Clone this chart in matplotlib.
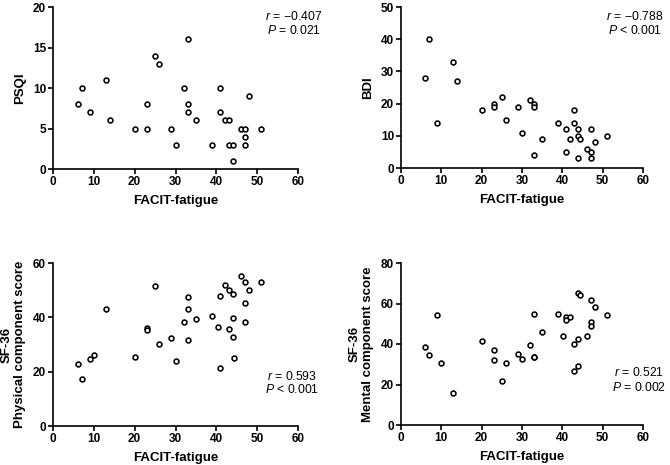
import matplotlib
matplotlib.use("Agg")
import matplotlib.pyplot as plt

plt.rcParams['font.family'] = ['Liberation Sans', 'DejaVu Sans']
plt.rcParams['mathtext.fontset'] = 'custom'
plt.rcParams['mathtext.it'] = 'Liberation Sans:italic'

# FACIT-fatigue vs PSQI
psqi_x = [6, 7, 9, 13, 14, 20, 23, 23, 25, 26, 29, 30, 32, 33, 33, 33, 35, 39,
          41, 41, 42, 43, 43, 44, 44, 46, 47, 47, 47, 48, 51]
psqi_y = [8, 10, 7, 11, 6, 5, 8, 5, 14, 13, 5, 3, 10, 16, 8, 7, 6, 3,
          10, 7, 6, 6, 3, 3, 1, 5, 5, 4, 3, 9, 5]

# FACIT-fatigue vs BDI
bdi_x = [6, 7, 9, 13, 14, 20, 23, 23, 25, 26, 29, 30, 32, 33, 33, 33, 35, 39,
         41, 41, 42, 43, 43, 44, 44, 44.5, 44, 46, 47, 47, 47, 48, 51]
bdi_y = [28, 40, 14, 33, 27, 18, 20, 19, 22, 15, 19, 11, 21, 20, 19, 4, 9, 14,
         12, 5, 9, 18, 14, 12, 10, 9, 3, 6, 12, 5, 3, 8, 10]

# FACIT-fatigue vs SF-36 physical component
pcs_x = [6, 7, 9, 10, 13, 20, 23, 23, 25, 26, 29, 30, 32, 33, 33, 33, 35, 39,
         40.3, 41, 41, 42, 43, 43, 44, 44, 44, 44.4, 46, 47, 47, 47, 48, 51]
pcs_y = [22.8, 17.2, 24.6, 26.2, 42.9, 25.3, 35.9, 35.5, 51.4, 30.3, 32.3, 24.1,
         38.1, 47.4, 43.0, 31.7, 39.3, 40.5, 36.3, 47.7, 21.4, 52.0, 50.1, 35.6,
         48.5, 39.9, 32.6, 25.0, 55.1, 52.9, 45.1, 38.1, 49.9, 52.9]

# FACIT-fatigue vs SF-36 mental component
mcs_x = [6, 7, 9, 10, 13, 20, 23, 23, 25, 26, 29, 30, 32, 33, 33, 33, 35, 39,
         40.2, 41, 41, 42, 43, 43, 44, 44.4, 44, 44, 46, 47, 47, 47, 48, 51]
mcs_y = [38.4, 34.5, 54.1, 30.8, 16.0, 41.7, 36.8, 32.2, 21.9, 30.4, 35.3, 32.5,
         39.4, 54.6, 33.8, 33.5, 45.7, 54.9, 44.0, 53.1, 51.8, 53.1, 40.1, 26.7,
         65.0, 64.3, 42.6, 29.2, 44.0, 61.5, 50.8, 48.8, 58.1, 54.3]

W, H = 670, 465
fig = plt.figure(figsize=(W / 100, H / 100), dpi=100)


def add_panel(px, x, y, ymax, ystep, ylabel, stats, stat_pos):
    left, top, right, bottom = px
    ax = fig.add_axes([left / W, 1 - bottom / H, (right - left) / W, (bottom - top) / H])
    ax.plot(x, y, 'o', ms=3.5, mfc='white', mec='black', mew=1.15, clip_on=False)
    ax.set_xlim(0, 60)
    ax.set_ylim(0, ymax)
    ax.set_xticks(range(0, 61, 10))
    ax.set_yticks(range(0, ymax + 1, ystep))
    for s in ['top', 'right']:
        ax.spines[s].set_visible(False)
    for s in ['left', 'bottom']:
        ax.spines[s].set_linewidth(1.2)
    ax.tick_params(direction='out', length=3.5, width=1.2, labelsize=8.5, pad=1.5)
    for lab in ax.get_xticklabels() + ax.get_yticklabels():
        lab.set_fontweight('bold')
    ax.set_xlabel("FACIT-fatigue", fontsize=9.5, fontweight='bold', labelpad=5)
    ax.set_ylabel(ylabel, fontsize=9.5, fontweight='bold', labelpad=5, linespacing=1.1)
    cx, cy1, cy2 = stat_pos
    fig.text(cx / W, 1 - cy1 / H, stats[0], ha='center', va='center', fontsize=8.8)
    fig.text(cx / W, 1 - cy2 / H, stats[1], ha='center', va='center', fontsize=8.8)
    return ax


add_panel((53, 7, 298, 169), psqi_x, psqi_y, 20, 5, "PSQI",
          ("$\\mathit{r}$ = \u22120.407", "$\\mathit{P}$ = 0.021"), (294, 16, 30))
add_panel((401, 7, 643, 168), bdi_x, bdi_y, 50, 10, "BDI",
          ("$\\mathit{r}$ = \u22120.788", "$\\mathit{P}$ < 0.001"), (635, 16, 30))
add_panel((53, 263, 298, 426), pcs_x, pcs_y, 60, 20, "SF-36\nPhysical component score",
          ("$\\mathit{r}$ = 0.593", "$\\mathit{P}$ < 0.001"), (292, 376, 389))
add_panel((401, 263, 643, 425), mcs_x, mcs_y, 80, 20, "SF-36\nMental component score",
          ("$\\mathit{r}$ = 0.521", "$\\mathit{P}$ = 0.002"), (639, 373, 387))

fig.savefig("out.png", dpi=100)
